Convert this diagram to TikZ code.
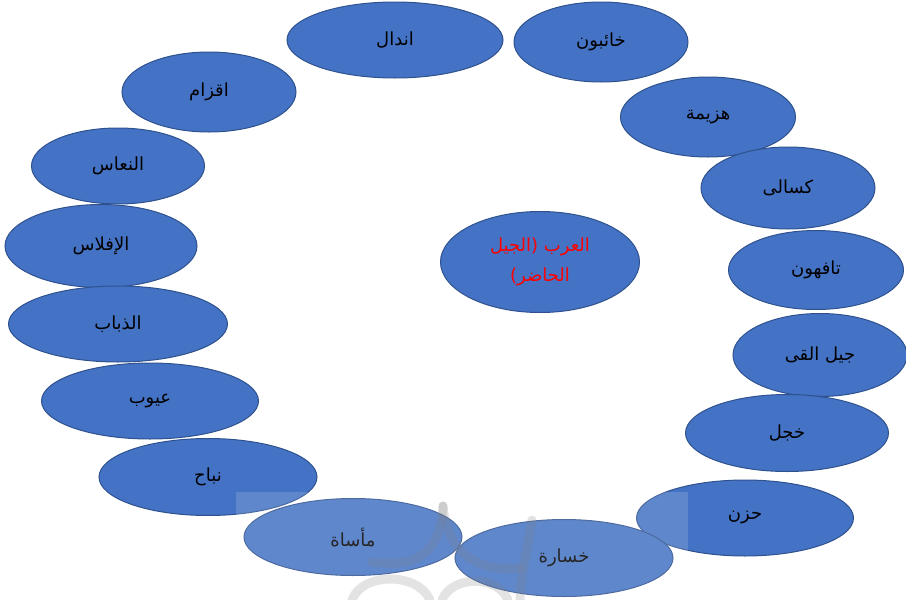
\documentclass[tikz,border=0pt]{standalone}
\usepackage{fontspec}
\usetikzlibrary{shapes.geometric}
\TeXXeTstate=1
\newfontfamily\arabicfont[Script=Arabic]{DejaVu Sans}
\definecolor{blu}{HTML}{4472C4}
\definecolor{bord}{HTML}{2F528F}
\definecolor{txtred}{HTML}{FF0000}
\tikzset{
  bub/.style={ellipse, draw=bord, fill=blu, line width=1pt, inner sep=0pt,
    font=\arabicfont\fontsize{18}{21}\selectfont, text=black},
  wm/.style={draw=gray, line width=9pt, opacity=0.22, line cap=round}
}
\begin{document}
\begin{tikzpicture}[x=1pt,y=-1pt]
\useasboundingbox (0,0) rectangle (906,600);
\node[bub, minimum width=216pt, minimum height=76pt] (andal) at (395,40) {\beginR اندال\endR};
\node[bub, minimum width=174pt, minimum height=80pt] (khaibun) at (601,42) {\beginR خائبون\endR};
\node[bub, minimum width=174pt, minimum height=80pt] (aqzam) at (209,92) {\beginR اقزام\endR};
\node[bub, minimum width=175pt, minimum height=80pt] (hazima) at (708,117) {\beginR هزيمة\endR};
\node[bub, minimum width=174pt, minimum height=82pt] (kusala) at (788,188) {\beginR كسالى\endR};
\node[bub, minimum width=175pt, minimum height=79pt] (tafihun) at (816,270) {\beginR تافهون\endR};
\node[bub, minimum width=174pt, minimum height=83pt] (jil) at (820,355) {\beginR جيل القى\endR};
\node[bub, minimum width=203pt, minimum height=77pt] (khajal) at (787,433) {\beginR خجل\endR};
\node[bub, minimum width=173pt, minimum height=76pt] (nuas) at (118,166) {\beginR النعاس\endR};
\node[bub, minimum width=192pt, minimum height=83pt] (iflas) at (101,246) {\beginR الإفلاس\endR};
\node[bub, minimum width=219pt, minimum height=76pt] (dhubab) at (118,324) {\beginR الذباب\endR};
\node[bub, minimum width=217pt, minimum height=76pt] (uyub) at (150,401) {\beginR عيوب\endR};
\node[bub, minimum width=218pt, minimum height=77pt] (nubah) at (208,477) {\beginR نباح\endR};
\node[bub, minimum width=218pt, minimum height=77pt] (masat) at (353,537) {\beginR مأساة\endR};
\node[bub, minimum width=217pt, minimum height=76pt] (huzn) at (745,518) {\beginR حزن\endR};
\node[bub, minimum width=218pt, minimum height=77pt] (khasara) at (564,558) {\beginR خسارة\endR};
\node[bub, minimum width=199pt, minimum height=101pt, text=txtred, align=center,
  font=\arabicfont\fontsize{18}{30}\selectfont] (arab) at (540,262)
  {\beginR العرب \beginL(\endL{}الجيل\endR\\\beginR الحاضر\beginL)\endL\endR};
% watermark overlay
\fill[white, opacity=0.15] (236,492) rectangle (688,600);
\draw[wm] (443,506) .. controls (440,555) and (415,568) .. (372,562);
\draw[wm] (443,506) .. controls (448,555) and (478,572) .. (520,568);
\draw[wm] (532,520) .. controls (526,555) and (520,580) .. (520,600);
\draw[wm] (352,600) .. controls (362,572) and (418,572) .. (430,600);
\draw[wm] (442,600) .. controls (452,575) and (498,575) .. (508,600);
\end{tikzpicture}
\end{document}
